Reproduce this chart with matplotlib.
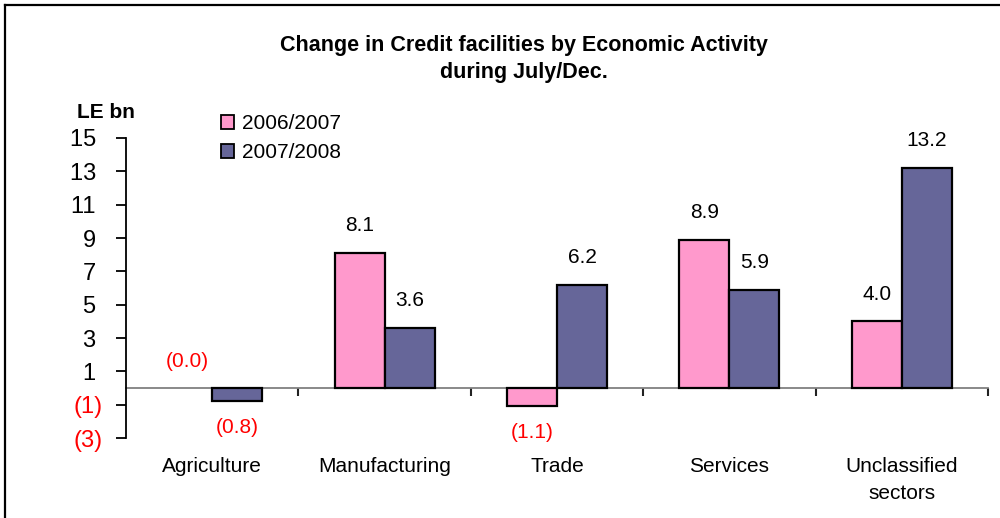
import matplotlib
matplotlib.use("Agg")
import matplotlib.pyplot as plt
from matplotlib.lines import Line2D
from matplotlib.patches import Patch

plt.rcParams['font.family'] = ['Liberation Sans', 'DejaVu Sans']

# Data (LE bn)
categories = ["Agriculture", "Manufacturing", "Trade", "Services", "Unclassified\nsectors"]
series_names = ["2006/2007", "2007/2008"]
values_0607 = [-0.02, 8.1, -1.1, 8.9, 4.0]
values_0708 = [-0.8, 3.6, 6.2, 5.9, 13.2]
ytick_values = [-3, -1, 1, 3, 5, 7, 9, 11, 13, 15]

colors = ["#FF99CC", "#666699"]
red = "#FF0000"


def fmt(v):
    return "({:.1f})".format(abs(v)) if v < 0 else "{:.1f}".format(v)


def tick_fmt(v):
    return "({:d})".format(abs(v)) if v < 0 else "{:d} ".format(v)


fig = plt.figure(figsize=(10, 5.18), dpi=100)
ax = fig.add_axes([0.126, 0.1544, 0.862, 0.5792])

n = len(categories)
x = list(range(n))
w = 0.29

for k, (vals, col) in enumerate(zip([values_0607, values_0708], colors)):
    pos = [i + (k - 0.5) * w for i in x]
    # bars too small to show are drawn without an outline
    lws = [1.6 if abs(v) >= 0.05 else 0 for v in vals]
    ax.bar(pos, vals, width=w, color=col, edgecolor="black", linewidth=lws,
           zorder=3, label=series_names[k])
    for p, v in zip(pos, vals):
        below = v < -0.05
        ax.annotate(fmt(v), xy=(p, v), xytext=(0, -19 if below else 19.5),
                    textcoords="offset points", ha="center", va="center",
                    fontsize=15, color=red if v < 0 else "black", zorder=4)

ax.set_xlim(-0.5, n - 0.5)
ax.set_ylim(-3, 15)

# axes styling
for s in ["top", "right"]:
    ax.spines[s].set_visible(False)
ax.spines["left"].set_color("black")
ax.spines["left"].set_linewidth(1.3)
ax.spines["bottom"].set_position(("data", 0))
ax.spines["bottom"].set_color("#808080")
ax.spines["bottom"].set_linewidth(1.3)
ax.spines["bottom"].set_zorder(2)

ax.set_yticks(ytick_values)
ax.set_yticklabels([tick_fmt(v) for v in ytick_values], fontsize=17)
for lab, v in zip(ax.get_yticklabels(), ytick_values):
    lab.set_color(red if v < 0 else "black")
ax.tick_params(axis="y", direction="out", length=7, width=1.3, pad=10, color="black")

ax.set_xticks([i + 0.5 for i in x])
ax.set_xticklabels([])
ax.tick_params(axis="x", direction="out", length=6, width=1.5, color="#222222")

for i, c in enumerate(categories):
    ax.text(i, -0.064, c, transform=ax.get_xaxis_transform(), ha="center", va="top",
            fontsize=15, linespacing=1.5)

# title and unit
fig.text(0.524, 0.912, "Change in Credit facilities by Economic Activity",
         ha="center", va="center", fontsize=15.5, fontweight="bold")
fig.text(0.524, 0.861, "during July/Dec.", ha="center", va="center",
         fontsize=15.5, fontweight="bold")
fig.text(0.106, 0.782, "LE bn", ha="center", va="center", fontsize=15, fontweight="bold")

# legend
handles = [Patch(facecolor=c, edgecolor="black", linewidth=1.3) for c in colors]
fig.legend(handles, series_names, loc="upper left", bbox_to_anchor=(0.206, 0.808),
           frameon=False, fontsize=15, handlelength=0.65, handleheight=0.65,
           handletextpad=0.4, labelspacing=0.5, borderpad=0.2)

# outer frame
fig.add_artist(Line2D([0.005, 0.005], [0.0, 0.99], transform=fig.transFigure,
                      color="black", linewidth=1.6))
fig.add_artist(Line2D([0.005, 1.0], [0.99, 0.99], transform=fig.transFigure,
                      color="black", linewidth=1.6))

fig.savefig("out.png", dpi=100)
